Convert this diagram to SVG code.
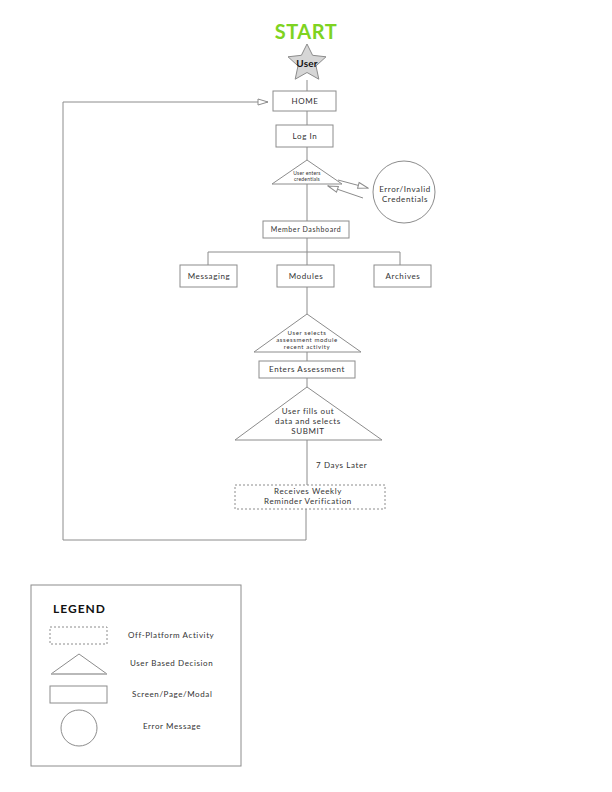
<svg xmlns="http://www.w3.org/2000/svg" width="612" height="792" viewBox="0 0 612 792">
<defs>
<style>
.s{fill:#fff;stroke:#8c8c8c;stroke-width:1}
.d{fill:#fff;stroke:#8c8c8c;stroke-width:1;stroke-dasharray:2,2}
.l{fill:none;stroke:#8c8c8c;stroke-width:1}
.t{font-family:Lato,"Liberation Sans",sans-serif;fill:#333;text-anchor:middle;letter-spacing:0.6px}
.lt{font-family:Lato,"Liberation Sans",sans-serif;fill:#333;font-size:8px;letter-spacing:0.6px}
</style>
<marker id="oa" viewBox="0 0 12 8" refX="11" refY="4" markerWidth="12" markerHeight="8" markerUnits="userSpaceOnUse" orient="auto">
<path d="M1,1 L11,4 L1,7 Z" fill="#fff" stroke="#8c8c8c" stroke-width="1"/>
</marker>
</defs>
<rect width="612" height="792" fill="#fff"/>

<g id="connectors">
<line class="l" x1="307" y1="80" x2="307" y2="91"/>
<line class="l" x1="307" y1="111" x2="307" y2="125"/>
<line class="l" x1="307" y1="147" x2="307" y2="160"/>
<line class="l" x1="338" y1="180" x2="368" y2="188" marker-end="url(#oa)"/>
<line class="l" x1="363" y1="198" x2="328" y2="186" marker-end="url(#oa)"/>
<line class="l" x1="307" y1="184" x2="307" y2="221"/>
<line class="l" x1="307" y1="238" x2="307" y2="252"/>
<polyline class="l" points="208,265 208,252 400,252 400,265"/>
<line class="l" x1="307" y1="252" x2="307" y2="265"/>
<line class="l" x1="307" y1="287" x2="307" y2="314"/>
<line class="l" x1="307" y1="352" x2="307" y2="361"/>
<line class="l" x1="307" y1="378" x2="307" y2="387"/>
<line class="l" x1="307" y1="440" x2="307" y2="485"/>
<text class="t" x="316" y="468" font-size="8" text-anchor="start" style="text-anchor:start">7 Days Later</text>
<polyline class="l" points="306,509 306,540 63,540"/>
<polyline class="l" points="63,540 63,102 268,102" marker-end="url(#oa)"/>
</g>

<g id="start">
<text class="t" x="306" y="39" font-size="20" font-weight="bold" style="fill:#7ed321;letter-spacing:0.5px">START</text>
</g>
<g id="user">
<polygon points="307,44 312.6,55.3 326,56.8 316,65.9 318.8,79.2 307,72.5 295.2,79.2 298,65.9 288,56.8 301.4,55.3" fill="#d6d6d6" stroke="#8c8c8c" stroke-width="1"/>
<text class="t" x="307" y="67" font-size="10" font-weight="bold" style="fill:#111;letter-spacing:0.2px">User</text>
</g>
<g id="home">
<rect class="s" x="273" y="91" width="63" height="20"/>
<text class="t" x="305" y="104" font-size="8">HOME</text>
</g>
<g id="login">
<rect class="s" x="276" y="125" width="57" height="22"/>
<text class="t" x="305" y="139" font-size="8">Log In</text>
</g>
<g id="credentials">
<polygon class="s" points="307,160 342,184 272,184"/>
<text class="t" x="307" y="175" font-size="5" style="letter-spacing:0.2px">User enters</text>
<text class="t" x="307" y="181" font-size="5" style="letter-spacing:0.2px">credentials</text>
</g>
<g id="error">
<circle class="s" cx="404" cy="192" r="31"/>
<text class="t" x="405" y="192" font-size="8">Error/Invalid</text>
<text class="t" x="405" y="202" font-size="8">Credentials</text>
</g>
<g id="dashboard">
<rect class="s" x="263" y="221" width="86" height="17"/>
<text class="t" x="306" y="232" font-size="7">Member Dashboard</text>
</g>
<g id="messaging">
<rect class="s" x="180" y="265" width="57" height="22"/>
<text class="t" x="209" y="279" font-size="8">Messaging</text>
</g>
<g id="modules">
<rect class="s" x="277" y="265" width="57" height="22"/>
<text class="t" x="306" y="279" font-size="8">Modules</text>
</g>
<g id="archives">
<rect class="s" x="374" y="265" width="57" height="22"/>
<text class="t" x="403" y="279" font-size="8">Archives</text>
</g>
<g id="selects">
<polygon class="s" points="307,314 361,352 254,352"/>
<text class="t" x="307" y="335" font-size="6">User selects</text>
<text class="t" x="307" y="342" font-size="6">assessment module</text>
<text class="t" x="307" y="349" font-size="6">recent activity</text>
</g>
<g id="enters">
<rect class="s" x="259" y="361" width="96" height="17"/>
<text class="t" x="307" y="372" font-size="8">Enters Assessment</text>
</g>
<g id="submit">
<polygon class="s" points="307,387 382,440 235,440"/>
<text class="t" x="308" y="414" font-size="8">User fills out</text>
<text class="t" x="308" y="424" font-size="8">data and selects</text>
<text class="t" x="308" y="434" font-size="8">SUBMIT</text>
</g>
<g id="reminder">
<rect class="d" x="235" y="485" width="150" height="24"/>
<text class="t" x="308" y="494" font-size="8">Receives Weekly</text>
<text class="t" x="308" y="504" font-size="8">Reminder Verification</text>
</g>

<g id="legend">
<rect class="s" x="31" y="585" width="210" height="181"/>
<text class="lt" x="53" y="613" font-size="12" font-weight="bold" style="font-size:12px;fill:#111;letter-spacing:1px">LEGEND</text>
<rect class="d" x="50" y="627" width="57" height="17"/>
<text class="lt" x="128" y="638">Off-Platform Activity</text>
<polygon class="s" points="79,654 107,674 51,674"/>
<line x1="51" y1="674" x2="107" y2="674" stroke="#b5b5b5" stroke-width="1.5"/>
<text class="lt" x="130" y="666">User Based Decision</text>
<rect class="s" x="50" y="686" width="57" height="17"/>
<text class="lt" x="132" y="697">Screen/Page/Modal</text>
<circle class="s" cx="79" cy="728" r="18"/>
<text class="lt" x="143" y="729">Error Message</text>
</g>
</svg>
